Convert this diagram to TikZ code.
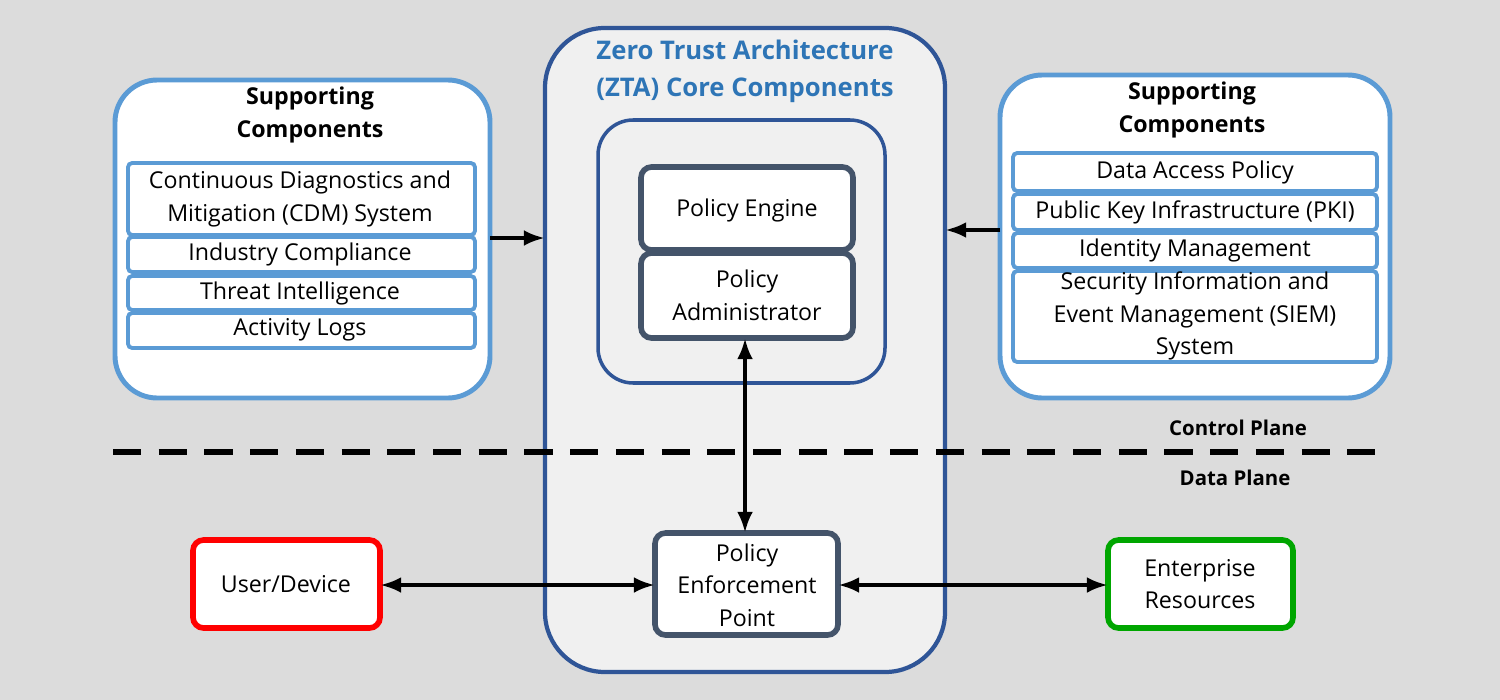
\documentclass[tikz,border=0pt]{standalone}
\usepackage{fontspec}
\setmainfont{Open Sans}
\usetikzlibrary{arrows.meta}
\definecolor{bg}{HTML}{DCDCDC}
\definecolor{sblue}{HTML}{5B9BD5}
\definecolor{dblue}{HTML}{2F5597}
\definecolor{dgray}{HTML}{44546A}
\definecolor{tblue}{HTML}{2E75B6}
\begin{document}
\begin{tikzpicture}[x=0.01cm,y=-0.01cm,
 outer/.style={draw=sblue,line width=1.4pt,fill=white,rounded corners=12pt},
 item/.style={draw=sblue,line width=1.1pt,fill=white,rounded corners=1.2pt},
 core/.style={draw=dgray,line width=1.6pt,fill=white,rounded corners=3pt},
 txt/.style={font=\fontsize{6.6}{9.3}\selectfont,align=center,inner sep=0},
 ttl/.style={font=\fontsize{6.6}{9.3}\selectfont\bfseries,align=center,inner sep=0},
 arr/.style={-{Latex[length=6pt]},line width=1.2pt},
 darr/.style={{Latex[length=6pt]}-{Latex[length=6pt]},line width=1.2pt}]
\fill[bg] (0,0) rectangle (1500,700);
\useasboundingbox (0,0) rectangle (1500,700);
% center
\draw[draw=dblue,line width=1.2pt,fill=gray!12,rounded corners=17pt] (545,28) rectangle (945,672);
\node[font=\fontsize{7.3}{10.6}\selectfont\bfseries,text=tblue,align=center,inner sep=0] (ztat) at (745,71) {Zero Trust Architecture\\(ZTA) Core Components};
\draw[draw=dblue,line width=1pt,fill=gray!12,rounded corners=10pt] (598,120) rectangle (885,383);
\draw[core] (641,167) rectangle (853,250); \node[txt] (pe) at (747,210) {Policy Engine};
\draw[core] (641,253) rectangle (853,338); \node[txt] (pa) at (747,295) {Policy\\Administrator};
\coordinate (pab) at (745,338);
\draw[core] (655,533) rectangle (838,635); \node[txt] (pep) at (747,585) {Policy\\Enforcement\\Point};
\coordinate (pept) at (745,533);
% left
\draw[outer] (115,80) rectangle (490,398);
\node[ttl] (lt) at (310,115) {Supporting\\Components};
\draw[item] (128,163) rectangle (475,235); \node[txt] (cdm) at (300,199) {Continuous Diagnostics and\\Mitigation (CDM) System};
\draw[item] (128,237) rectangle (475,272); \node[txt] (ic) at (300,254) {Industry Compliance};
\draw[item] (128,276) rectangle (475,310); \node[txt] (ti) at (300,293) {Threat Intelligence};
\draw[item] (128,313) rectangle (475,348); \node[txt] (al) at (300,330) {Activity Logs};
% right
\draw[outer] (1000,75) rectangle (1390,398);
\node[ttl] (rt) at (1192,110) {Supporting\\Components};
\draw[item] (1013,153) rectangle (1377,191); \node[txt] (dap) at (1195,172) {Data Access Policy};
\draw[item] (1013,194) rectangle (1377,230); \node[txt] (pki) at (1195,212) {Public Key Infrastructure (PKI)};
\draw[item] (1013,233) rectangle (1377,268); \node[txt] (idm) at (1195,250) {Identity Management};
\draw[item] (1013,271) rectangle (1377,362); \node[txt] (siem) at (1195,316) {Security Information and\\Event Management (SIEM)\\System};
% planes
\draw[line width=1.5pt,dash pattern=on 8pt off 5pt] (113,452) -- (1385,452);
\node[font=\fontsize{5.8}{8}\selectfont\bfseries] (cp) at (1238,428) {Control Plane};
\node[font=\fontsize{5.8}{8}\selectfont\bfseries] (dp) at (1235,478) {Data Plane};
% bottom
\draw[draw=red,line width=1.6pt,fill=white,rounded corners=3pt] (193,540) rectangle (380,628);
\node[txt] (ud) at (286,584) {User/Device};
\draw[draw=green!65!black,line width=1.6pt,fill=white,rounded corners=3pt] (1108,540) rectangle (1293,628);
\node[txt] (er) at (1200,584) {Enterprise\\Resources};
% arrows
\coordinate (l1) at (490,238); \coordinate (l2) at (545,238);
\draw[arr] (l1) -- (l2);
\coordinate (r1) at (1000,230); \coordinate (r2) at (945,230);
\draw[arr] (r1) -- (r2);
\draw[darr] (pab) -- (pept);
\coordinate (u1) at (380,585); \coordinate (u2) at (655,585);
\coordinate (e1) at (838,585); \coordinate (e2) at (1108,585);
\draw[darr] (u1) -- (u2);
\draw[darr] (e1) -- (e2);
\end{tikzpicture}
\end{document}
